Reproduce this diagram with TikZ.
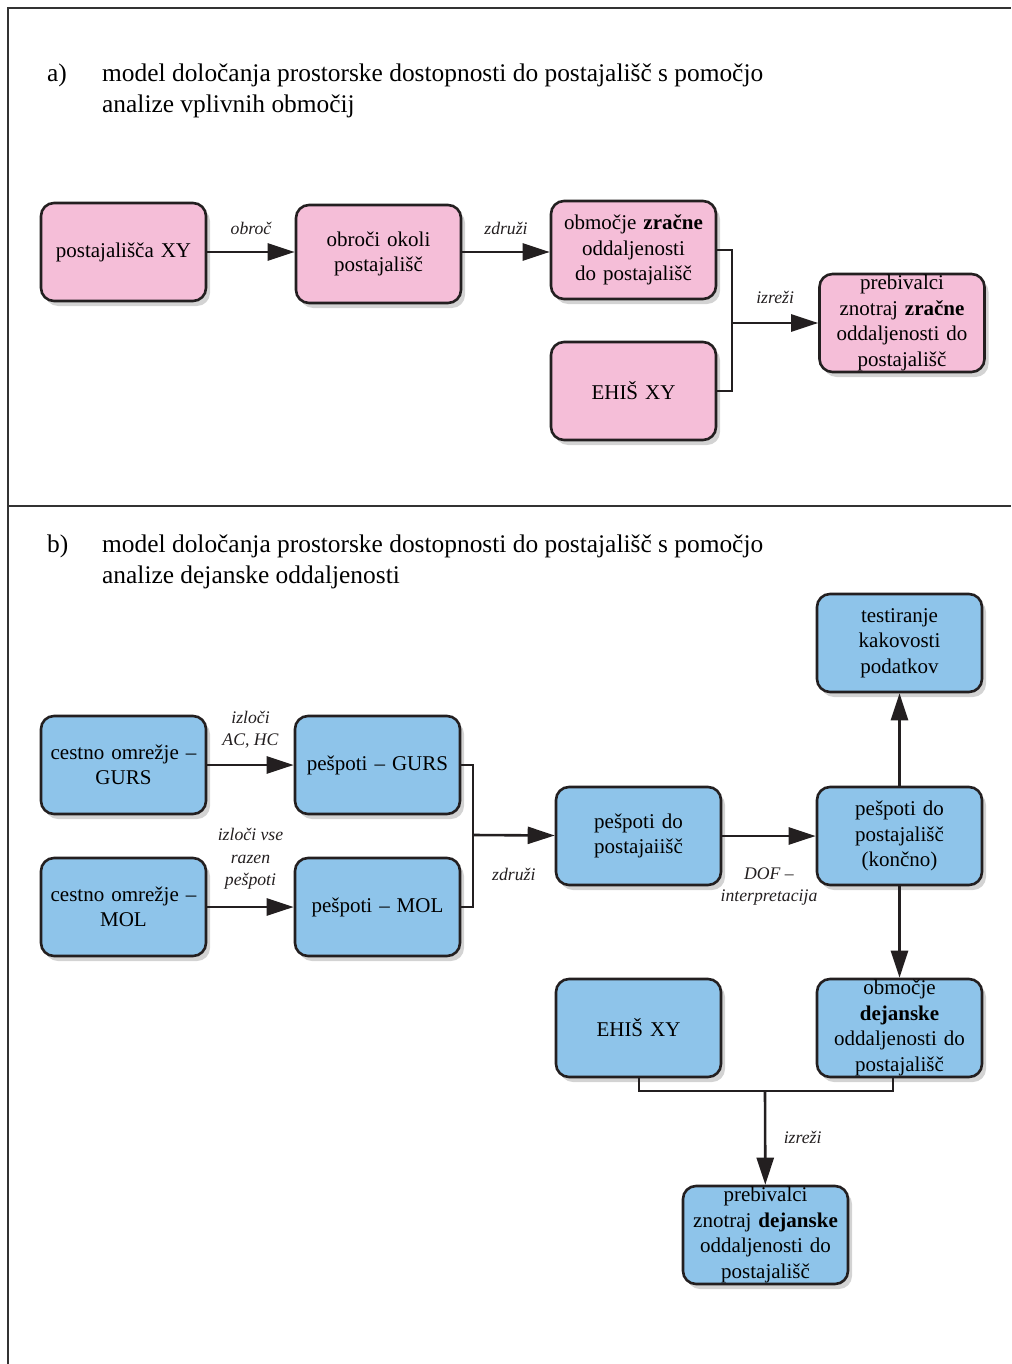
\documentclass[tikz,border=0pt]{standalone}
\usepackage{fontspec}
\setmainfont{Liberation Serif}
\usepackage{xcolor}
\usetikzlibrary{arrows.meta,positioning,shapes,shadows,calc}
\definecolor{pinkfill}{RGB}{245,190,216}
\definecolor{bluefill}{RGB}{142,196,234}
\definecolor{edge}{RGB}{35,31,32}
\tikzset{
  box/.style = {draw = edge, line width = 2.6pt, rounded corners = 13pt,
    minimum width = 165pt, minimum height = 98pt, text width = 162pt,
    align = center, inner sep = 0pt, font = \fontsize{21}{25.5}\selectfont,
    drop shadow = {opacity = .35, shadow xshift = 4pt, shadow yshift = -5pt}},
  boxa/.style = {box, fill = pinkfill},
  boxb/.style = {box, fill = bluefill},
  lbl/.style = {align = center, font = \itshape\fontsize{17.7}{22.5}\selectfont},
  link/.style = {->, line width = 2.6pt, edge},
  bracketline/.style = {line width = 2pt, edge},
  frame/.style = {line width = 2pt, black!80},
  heading/.style = {anchor = north west, align = left, inner sep = 0pt,
    font = \fontsize{25.4}{31}\selectfont}
}
\begin{document}
\begin{tikzpicture}[x = 1pt, y = -1pt, >={Triangle[length = 27pt, width = 17pt]}]
\useasboundingbox (0,0) rectangle (1011,1364);
\draw[frame] (8,1364) -- (8,8) -- (1011,8);
\draw[frame] (8,506) -- (1011,506);

% a) zracna oddaljenost
\node[heading] (ta) at (47,64) {a)};
\node[heading] (tta) at (102,64) {model določanja prostorske dostopnosti do postajališč s pomočjo\\analize vplivnih območij};
\node[boxa] (postaje) at (123.5,252) {postajališča XY};
\node[boxa] (obroci) at (378.5,254) {obroči okoli\\postajališč};
\node[boxa] (zracno) at (633.5,250) {območje \textbf{zračne}\\oddaljenosti\\do postajališč};
\node[boxa] (ehisa) at (633.5,391) {EHIŠ XY};
\node[boxa] (prebza) at (902,323) {prebivalci\\znotraj \textbf{zračne}\\oddaljenosti do\\postajališč};
\coordinate (ja) at (732,323);
\draw[link] (postaje) -- node[lbl, above = 13pt] {obroč} (obroci.west |- postaje);
\draw[link] (obroci.east |- postaje) -- node[lbl, above = 13pt] {združi} (zracno.west |- postaje);
\draw[bracketline] (zracno.east) -| (ja) |- (ehisa.east);
\draw[link] (ja) -- node[lbl, above = 15pt] {izreži} (prebza);

% b) dejanska oddaljenost
\node[heading] (tb) at (47,535) {b)};
\node[heading] (ttb) at (102,535) {model določanja prostorske dostopnosti do postajališč s pomočjo\\analize dejanske oddaljenosti};
\node[boxb] (cgurs) at (123.5,765) {cestno omrežje –\\GURS};
\node[boxb] (cmol) at (123.5,907) {cestno omrežje –\\MOL};
\node[boxb] (pgurs) at (377.5,765) {pešpoti – GURS};
\node[boxb] (pmol) at (377.5,907) {pešpoti – MOL};
\node[boxb] (pdo) at (638.5,836) {pešpoti do\\postajaiišč};
\node[boxb] (pkoncno) at (899.5,836) {pešpoti do\\postajališč\\(končno)};
\node[boxb] (test) at (899.5,643) {testiranje\\kakovosti\\podatkov};
\node[boxb] (ehisb) at (638.5,1028) {EHIŠ XY};
\node[boxb] (dejansko) at (899.5,1028) {območje\\\textbf{dejanske}\\oddaljenosti do\\postajališč};
\node[boxb] (prebdej) at (765.5,1235) {prebivalci\\znotraj \textbf{dejanske}\\oddaljenosti do\\postajališč};
\coordinate (jb) at (473,835);
\coordinate (jc) at (765,1091);
\draw[link] (cgurs) -- node[lbl, above = 12pt] {izloči\\AC, HC} (pgurs);
\draw[link] (cmol) -- node[lbl, above = 13pt] {izloči vse\\razen\\pešpoti} (pmol);
\draw[bracketline] (pgurs.east) -| (jb) |- (pmol.east);
\draw[link] (jb) -- node[lbl, below = 28pt] {združi} (pdo);
\draw[link] (pdo) -- node[lbl, below = 27pt] {DOF –\\interpretacija} (pkoncno);
\draw[link] (pkoncno) -- (test);
\draw[link] (pkoncno) -- (dejansko);
\draw[bracketline] (ehisb.south) |- (jc) -| ([xshift = -7pt]dejansko.south);
\draw[link] (jc) -- node[lbl, right = 14pt] {izreži} (prebdej);
\end{tikzpicture}
\end{document}
